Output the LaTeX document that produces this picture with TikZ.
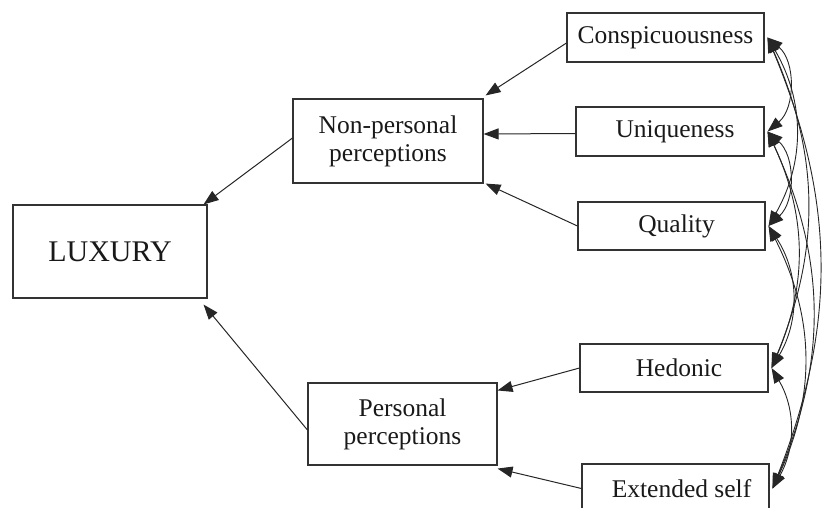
\documentclass[tikz,border=0pt]{standalone}
\usepackage{fontspec}
\setmainfont{Liberation Serif}
\usetikzlibrary{arrows.meta}
\begin{document}
\begin{tikzpicture}[x=1pt,y=-1pt,
  >={Triangle[length=15pt,width=11pt]},
  box/.style={draw=black!80,line width=1.1pt,inner sep=0pt,align=center,
    font=\fontsize{25.5}{28}\selectfont,text=black!90},
  link/.style={->,draw=black!85,line width=1pt},
  corr/.style={<->,draw=black!85,line width=0.9pt}]
\useasboundingbox (0,0) rectangle (826,507);
\node[box,minimum width=194pt,minimum height=93pt,font=\fontsize{30}{34}\selectfont] (lux) at (110,251.5) {LUXURY};
\node[box,minimum width=190pt,minimum height=84pt] (nonp) at (388,141) {Non-personal\\perceptions};
\node[box,minimum width=189pt,minimum height=82pt] (pers) at (402.5,424) {Personal\\perceptions};
\node[box,minimum width=197pt,minimum height=49pt] (consp) at (665.5,37.5) {Conspicuousness};
\node[box,minimum width=188pt,minimum height=49pt] (uniq) at (670,131.5) {\hspace*{10pt}Uniqueness};
\node[box,minimum width=187pt,minimum height=48pt] (qual) at (671.5,226) {\hspace*{10pt}Quality};
\node[box,minimum width=188pt,minimum height=48pt] (hed) at (674,368) {\hspace*{10pt}Hedonic};
\node[box,minimum width=187pt,minimum height=49pt] (ext) at (675.5,488.5) {\hspace*{12pt}Extended self};
% main paths
\draw[link] ([yshift=-5.5pt]consp.west) -- ([xshift=2pt,yshift=3pt]nonp.north east);
\draw[link] ([yshift=-2pt]uniq.west) -- ([yshift=7pt]nonp.east);
\draw[link] (qual.west) -- ([xshift=2pt]nonp.south east);
\draw[link] ([yshift=3pt]nonp.west) -- ([xshift=-4pt]lux.north east);
\draw[link] ([yshift=-6pt]pers.west) -- ([xshift=-4pt,yshift=-6pt]lux.south east);
\draw[link] (hed.west) -- ([yshift=-8pt]pers.north east);
\draw[link] (ext.west) -- ([yshift=-3pt]pers.south east);
% correlations
\foreach \a/\b/\ang in {consp/uniq/50, uniq/qual/48, hed/ext/30, qual/hed/32,
   consp/qual/30, uniq/hed/24, qual/ext/26, consp/hed/23, uniq/ext/24, consp/ext/22}{
  \draw[corr] ([xshift=3pt]\a.east) to[bend left=\ang] ([xshift=3pt]\b.east);
}
\end{tikzpicture}
\end{document}
